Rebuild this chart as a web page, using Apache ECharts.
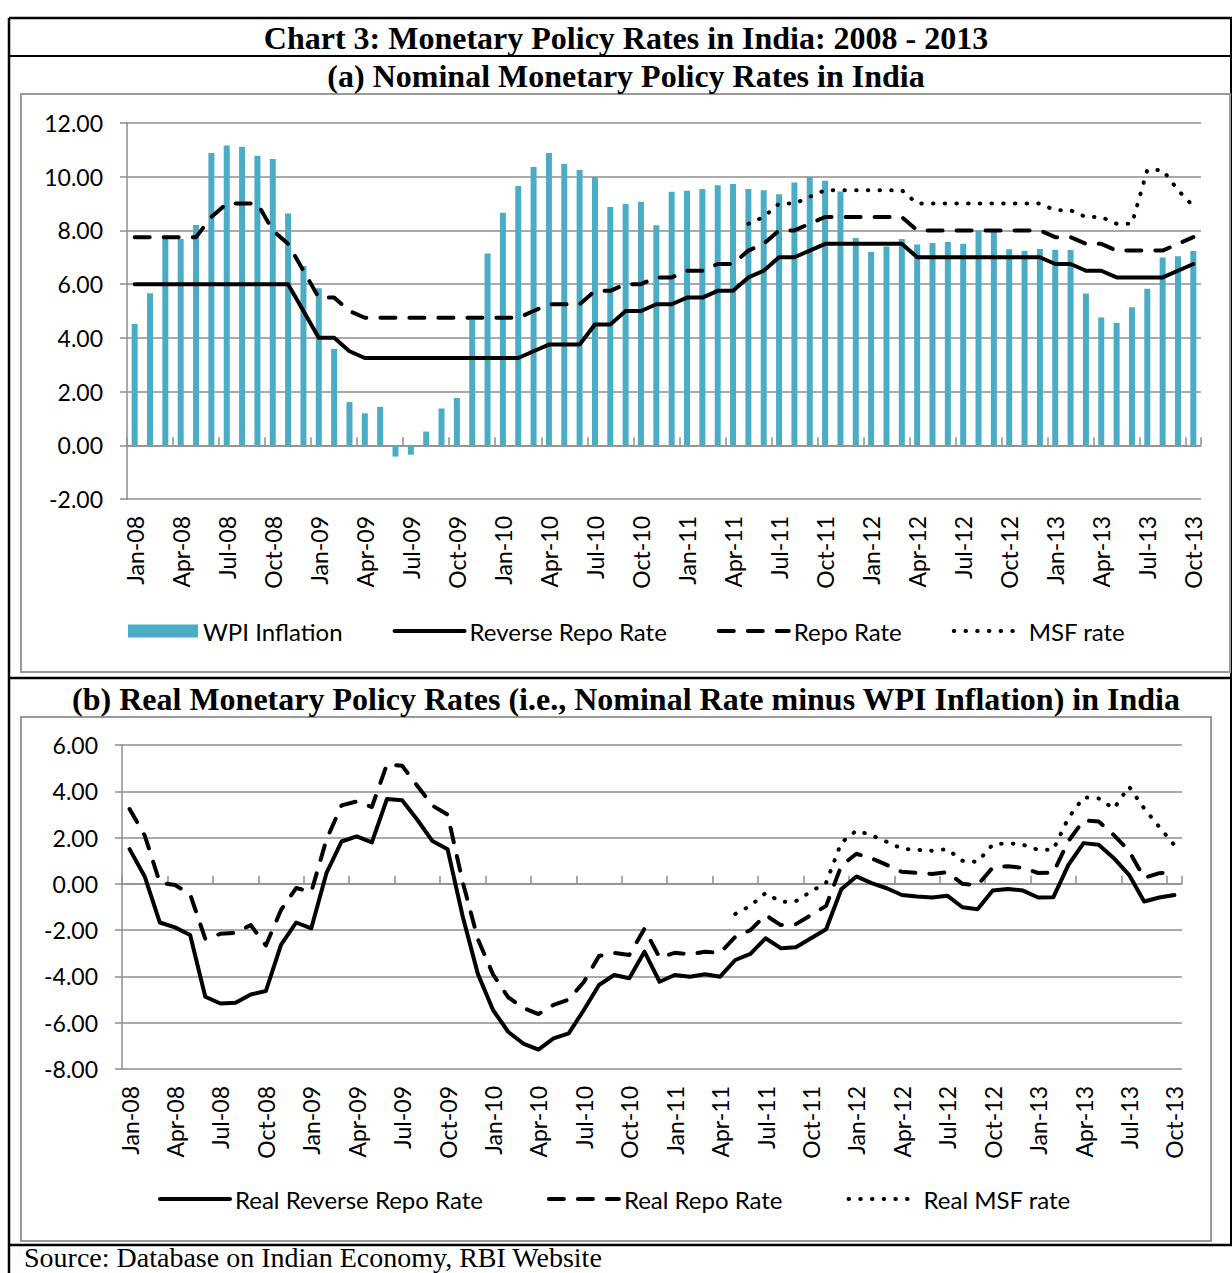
<!DOCTYPE html>
<html>
<head>
<meta charset="utf-8">
<title>Monetary Policy Rates in India: 2008 - 2013</title>
<style>
    html, body { margin: 0; padding: 0; background: #fff; }
    #main { width: 1232px; height: 1273px; }
</style>
<script src="https://cdn.jsdelivr.net/npm/echarts@6/dist/echarts.min.js"></script>
</head>
<body>
<div id="main"></div>
<script type="text/javascript">
    // x轴: monthly categories Jan-08 .. Oct-13
    var months = [
        'Jan-08', 'Feb-08', 'Mar-08', 'Apr-08', 'May-08', 'Jun-08', 'Jul-08', 'Aug-08', 'Sep-08', 'Oct-08', 'Nov-08', 'Dec-08',
        'Jan-09', 'Feb-09', 'Mar-09', 'Apr-09', 'May-09', 'Jun-09', 'Jul-09', 'Aug-09', 'Sep-09', 'Oct-09', 'Nov-09', 'Dec-09',
        'Jan-10', 'Feb-10', 'Mar-10', 'Apr-10', 'May-10', 'Jun-10', 'Jul-10', 'Aug-10', 'Sep-10', 'Oct-10', 'Nov-10', 'Dec-10',
        'Jan-11', 'Feb-11', 'Mar-11', 'Apr-11', 'May-11', 'Jun-11', 'Jul-11', 'Aug-11', 'Sep-11', 'Oct-11', 'Nov-11', 'Dec-11',
        'Jan-12', 'Feb-12', 'Mar-12', 'Apr-12', 'May-12', 'Jun-12', 'Jul-12', 'Aug-12', 'Sep-12', 'Oct-12', 'Nov-12', 'Dec-12',
        'Jan-13', 'Feb-13', 'Mar-13', 'Apr-13', 'May-13', 'Jun-13', 'Jul-13', 'Aug-13', 'Sep-13', 'Oct-13'
    ];

    // (a) nominal
    var wpiInflation = [
        4.52, 5.66, 7.70, 7.68, 8.20, 10.88, 11.16, 11.12, 10.78, 10.66, 8.63, 6.68,
        5.85, 3.59, 1.61, 1.19, 1.43, -0.42, -0.35, 0.51, 1.37, 1.76, 4.67, 7.14,
        8.66, 9.65, 10.36, 10.88, 10.48, 10.25, 9.99, 8.87, 8.98, 9.07, 8.19, 9.44,
        9.48, 9.54, 9.68, 9.73, 9.54, 9.50, 9.35, 9.78, 9.99, 9.85, 9.45, 7.72,
        7.20, 7.40, 7.68, 7.48, 7.53, 7.57, 7.50, 8.00, 8.05, 7.30, 7.24, 7.31,
        7.28, 7.27, 5.65, 4.76, 4.56, 5.14, 5.83, 6.99, 7.04, 7.23
    ];
    var reverseRepo = [
        6, 6, 6, 6, 6, 6, 6, 6, 6, 6, 6, 5,
        4, 4, 3.5, 3.25, 3.25, 3.25, 3.25, 3.25, 3.25, 3.25, 3.25, 3.25,
        3.25, 3.25, 3.5, 3.75, 3.75, 3.75, 4.5, 4.5, 5, 5, 5.25, 5.25,
        5.5, 5.5, 5.75, 5.75, 6.25, 6.5, 7, 7, 7.25, 7.5, 7.5, 7.5,
        7.5, 7.5, 7.5, 7, 7, 7, 7, 7, 7, 7, 7, 7,
        6.75, 6.75, 6.5, 6.5, 6.25, 6.25, 6.25, 6.25, 6.5, 6.75
    ];
    var repoRate = [
        7.75, 7.75, 7.75, 7.75, 7.75, 8.5, 9, 9, 9, 8, 7.5, 6.5,
        5.5, 5.5, 5, 4.75, 4.75, 4.75, 4.75, 4.75, 4.75, 4.75, 4.75, 4.75,
        4.75, 4.75, 5, 5.25, 5.25, 5.25, 5.75, 5.75, 6, 6, 6.25, 6.25,
        6.5, 6.5, 6.75, 6.75, 7.25, 7.5, 8, 8, 8.25, 8.5, 8.5, 8.5,
        8.5, 8.5, 8.5, 8, 8, 8, 8, 8, 8, 8, 8, 8,
        7.75, 7.75, 7.5, 7.5, 7.25, 7.25, 7.25, 7.25, 7.5, 7.75
    ];
    var msfRate = [
        null, null, null, null, null, null, null, null, null, null, null, null,
        null, null, null, null, null, null, null, null, null, null, null, null,
        null, null, null, null, null, null, null, null, null, null, null, null,
        null, null, null, null, 8.25, 8.5, 9, 9, 9.25, 9.5, 9.5, 9.5,
        9.5, 9.5, 9.5, 9, 9, 9, 9, 9, 9, 9, 9, 9,
        8.75, 8.75, 8.5, 8.5, 8.25, 8.25, 10.25, 10.25, 9.5, 8.9
    ];

    // (b) real rates
    var realReverseRepo = [
        1.50, 0.32, -1.67, -1.88, -2.21, -4.88, -5.17, -5.14, -4.78, -4.63, -2.64, -1.67,
        -1.92, 0.46, 1.83, 2.05, 1.79, 3.67, 3.61, 2.77, 1.85, 1.50, -1.41, -3.89,
        -5.45, -6.39, -6.90, -7.16, -6.68, -6.46, -5.45, -4.37, -3.94, -4.08, -2.93, -4.23,
        -3.94, -4.01, -3.91, -4.01, -3.29, -3.03, -2.35, -2.78, -2.74, -2.35, -1.96, -0.23,
        0.32, 0.03, -0.19, -0.48, -0.55, -0.59, -0.51, -1.01, -1.10, -0.29, -0.22, -0.29,
        -0.59, -0.58, 0.82, 1.76, 1.69, 1.11, 0.39, -0.76, -0.59, -0.48
    ];
    var realRepo = [
        3.23, 2.09, 0.05, -0.05, -0.45, -2.38, -2.16, -2.12, -1.78, -2.66, -1.13, -0.18,
        -0.35, 1.91, 3.39, 3.56, 3.32, 5.17, 5.10, 4.24, 3.38, 2.99, 0.08, -2.39,
        -3.91, -4.90, -5.36, -5.63, -5.23, -5.00, -4.24, -3.12, -2.98, -3.07, -1.94, -3.19,
        -2.98, -3.04, -2.93, -2.98, -2.29, -2.00, -1.35, -1.78, -1.74, -1.35, -0.95, 0.78,
        1.30, 1.10, 0.82, 0.52, 0.47, 0.43, 0.50, 0.00, -0.05, 0.70, 0.76, 0.69,
        0.47, 0.48, 1.85, 2.74, 2.69, 2.11, 1.42, 0.26, 0.46, 0.52
    ];
    var realMsf = [
        null, null, null, null, null, null, null, null, null, null, null, null,
        null, null, null, null, null, null, null, null, null, null, null, null,
        null, null, null, null, null, null, null, null, null, null, null, null,
        null, null, null, null, -1.30, -0.95, -0.40, -0.78, -0.75, -0.33, 0.05, 1.78,
        2.30, 2.10, 1.82, 1.52, 1.47, 1.43, 1.50, 1.00, 0.95, 1.70, 1.76, 1.69,
        1.47, 1.48, 2.85, 3.74, 3.69, 3.25, 4.20, 3.26, 2.46, 1.67
    ];

    var legendA = ['WPI Inflation', 'Reverse Repo Rate', 'Repo Rate', 'MSF rate'];
    var legendB = ['Real Reverse Repo Rate', 'Real Repo Rate', 'Real MSF rate'];

    var labelFont = 'Lato';
    var gridColor = '#8e8e8e';
    var barColor = '#4bacc6';
    var dashed = [15, 14];
    var dotted = [0.5, 11.2];

    function lineSeries(name, data, type, xi, yi) {
        return {
            name: name,
            type: 'line',
            xAxisIndex: xi,
            yAxisIndex: yi,
            data: data,
            symbol: 'none',
            connectNulls: false,
            animation: false,
            lineStyle: {color: '#000', width: 4, type: type, cap: 'round', join: 'round'},
            itemStyle: {color: '#000'}
        };
    }

    // legend entry for a line: thick line, no marker
    function lineKey(name, type) {
        return {name: name, itemStyle: {opacity: 0},
            lineStyle: {width: 4, type: type, cap: 'round', color: '#000'}};
    }

    // label axis at the bottom, plus a plain axis line through zero
    function xAxes(gridIndex) {
        return [{
            type: 'category', gridIndex: gridIndex, data: months, boundaryGap: true,
            position: 'bottom',
            axisLine: {show: false, onZero: false},
            axisTick: {show: false},
            axisLabel: {interval: 2, rotate: 90, margin: 17, color: '#000',
                fontFamily: labelFont, fontSize: 23}
        }, {
            type: 'category', gridIndex: gridIndex, data: months, boundaryGap: true,
            axisLine: {show: true, onZero: true, lineStyle: {color: gridColor, width: 1.5}},
            axisTick: {show: true, interval: 2, length: 8, lineStyle: {color: gridColor, width: 1.5}},
            axisLabel: {show: false}
        }];
    }

    function yAxis(gridIndex, min, max) {
        return {
            type: 'value', gridIndex: gridIndex, min: min, max: max, interval: 2,
            axisLine: {show: true, lineStyle: {color: gridColor, width: 1.5}},
            axisTick: {show: true, length: 7, lineStyle: {color: gridColor, width: 1.5}},
            splitLine: {show: true, lineStyle: {color: gridColor, width: 1.5}},
            axisLabel: {margin: 24, color: '#000', fontFamily: labelFont, fontSize: 23,
                formatter: function (v) { return v.toFixed(2); }}
        };
    }

    function titleText(text, x, y, size, weight, align) {
        return {
            type: 'text', x: x, y: y, silent: true,
            style: {text: text, fill: '#000', textAlign: align, textVerticalAlign: 'middle',
                font: weight + ' ' + size + 'px "Liberation Serif", "Times New Roman", serif'}
        };
    }

    function rule(x1, y1, x2, y2, color, w) {
        return {type: 'line', silent: true, shape: {x1: x1, y1: y1, x2: x2, y2: y2},
            style: {stroke: color, lineWidth: w}};
    }

    var myChart = echarts.init(document.getElementById('main'), null, {renderer: 'svg'});
    var option = {
        backgroundColor: '#fff',
        animation: false,
        graphic: [
            // outer boxes
            rule(9, 18, 1232, 18, '#000', 2.5),
            rule(9, 56, 1232, 56, '#000', 2),
            rule(9, 678, 1232, 678, '#000', 2.5),
            rule(9, 1245, 1232, 1245, '#000', 2.5),
            rule(9, 18, 9, 1273, '#000', 2.5),
            rule(1231, 18, 1231, 1245, '#000', 2),
            {type: 'rect', silent: true, shape: {x: 21, y: 94, width: 1209, height: 578},
                style: {fill: null, stroke: '#9a9a9a', lineWidth: 2}},
            {type: 'rect', silent: true, shape: {x: 21, y: 717, width: 1190, height: 524},
                style: {fill: null, stroke: '#9a9a9a', lineWidth: 2}},
            titleText('Chart 3: Monetary Policy Rates in India: 2008 - 2013', 626, 38, 32, 'bold', 'center'),
            titleText('(a) Nominal Monetary Policy Rates in India', 626, 76, 32, 'bold', 'center'),
            titleText('(b) Real Monetary Policy Rates (i.e., Nominal Rate minus WPI Inflation) in India', 626, 699, 32, 'bold', 'center'),
            titleText('Source: Database on Indian Economy, RBI Website', 24, 1257, 28, 'normal', 'left')
        ],
        legend: [{
            data: [{name: legendA[0], icon: 'rect'}, lineKey(legendA[1], 'solid'),
                lineKey(legendA[2], dashed), lineKey(legendA[3], dotted)],
            left: 123, top: 614, itemWidth: 70, itemHeight: 13, itemGap: 50,
            textStyle: {color: '#000', fontFamily: labelFont, fontSize: 24}
        }, {
            data: [lineKey(legendB[0], 'solid'), lineKey(legendB[1], dashed), lineKey(legendB[2], dotted)],
            left: 153, top: 1182, itemWidth: 70, itemHeight: 13, itemGap: 64,
            textStyle: {color: '#000', fontFamily: labelFont, fontSize: 24}
        }],
        grid: [
            {left: 127, right: 31, top: 123, height: 376},
            {left: 122, right: 50, top: 745, height: 324}
        ],
        xAxis: xAxes(0).concat(xAxes(1)),
        yAxis: [yAxis(0, -2, 12), yAxis(1, -8, 6)],
        series: [{
            name: legendA[0],
            type: 'bar',
            xAxisIndex: 0,
            yAxisIndex: 0,
            barWidth: 6,
            data: wpiInflation,
            itemStyle: {color: barColor}
        },
            lineSeries(legendA[1], reverseRepo, 'solid', 0, 0),
            lineSeries(legendA[2], repoRate, dashed, 0, 0),
            lineSeries(legendA[3], msfRate, dotted, 0, 0),
            lineSeries(legendB[0], realReverseRepo, 'solid', 2, 1),
            lineSeries(legendB[1], realRepo, dashed, 2, 1),
            lineSeries(legendB[2], realMsf, dotted, 2, 1)
        ]
    };
    myChart.setOption(option);
</script>
</body>
</html>
